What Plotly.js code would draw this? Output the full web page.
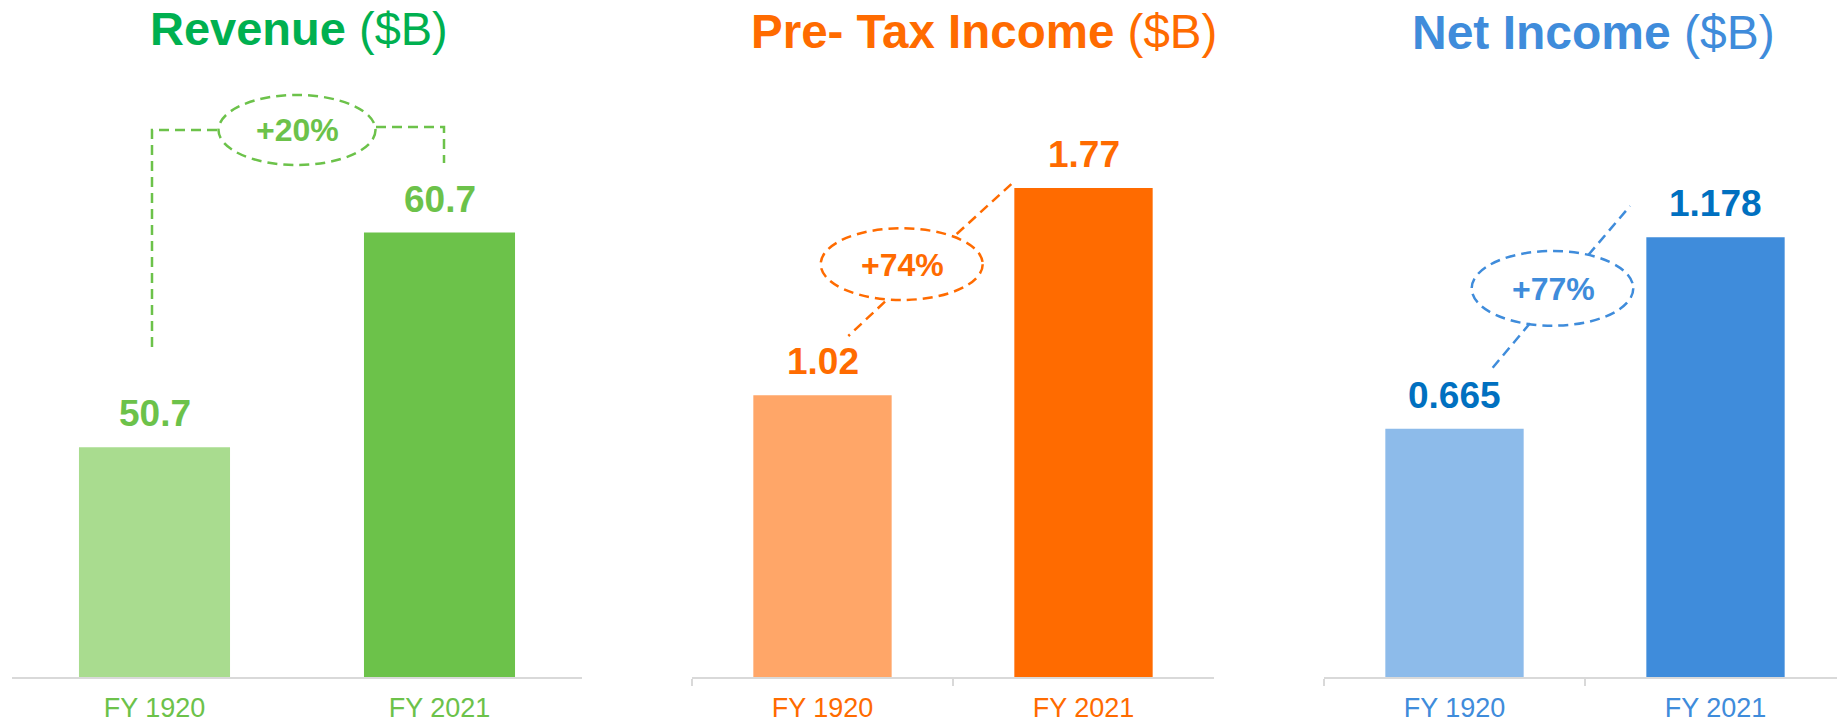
<!DOCTYPE html>
<html><head><meta charset="utf-8">
<script src="https://cdn.plot.ly/plotly-3.0.1.min.js"></script>
<style>html,body{margin:0;padding:0;background:#fff;}#chart{width:1837px;height:723px;}</style>
</head><body><div id="chart"></div>
<script>
// ---- data ----
const categories = ["FY 1920", "FY 2021"];
const revenue = [50.7, 60.7];
const preTaxIncome = [1.02, 1.77];
const netIncome = [0.665, 1.178];
const growthLabels = ["+20%", "+74%", "+77%"];
const titleBold = ["Revenue", "Pre- Tax Income", "Net Income"];
const titleUnit = ["($B)", "($B)", "($B)"];

// ---- layout helpers ----
const W = 1837, H = 723;
const FONT = "Liberation Sans, Arial, Helvetica, sans-serif";
const px = x => x / W;
const py = y => 1 - y / H;
const AXIS_BOTTOM = 677;

const panels = [
  {values: revenue, bars: ["#A9DC8F", "#6CC24A"], titleColor: "#00B050", labelColor: "#6CC24A",
   tickColor: "#6CC24A", accent: "#6CC24A", dom: [12, 582], xr: [-0.5, 1.5], yr: [40, 40 + 677 / 21.47],
   titleX: 299, titleBase: 46, titleSize: 47, showTicks: false,
   ellipse: [218.5, 95, 375.5, 165], growthX: 297, growthBase: 142.7,
   paths: [[[152, 347], [152, 130], [219, 130]], [[376, 127], [444, 127], [444, 163]]]},
  {values: preTaxIncome, bars: ["#FFA668", "#FF6B00"], titleColor: "#FF6B00", labelColor: "#FF6B00",
   tickColor: "#FF6B00", accent: "#FF6B00", dom: [692, 1214], xr: [-0.5, 1.5], yr: [0, 677 / 276.3],
   titleX: 984, titleBase: 49, titleSize: 47.5, showTicks: true,
   ellipse: [820.7, 228.3, 982.7, 300], growthX: 902.5, growthBase: 277.3,
   paths: [[[956.7, 234], [1015, 180.7]], [[885, 301.7], [848.3, 336]]]},
  {values: netIncome, bars: ["#8DBBEA", "#3F8CDB"], titleColor: "#3F8CDB", labelColor: "#0070C0",
   tickColor: "#3F8CDB", accent: "#3F8CDB", dom: [1324, 1837], xr: [-0.5, -0.5 + 513 / 261], yr: [0, 677 / 373.3],
   titleX: 1593, titleBase: 50, titleSize: 48, showTicks: true,
   ellipse: [1471.7, 251, 1633.3, 325.7], growthX: 1553, growthBase: 301.7,
   paths: [[[1588.3, 255], [1630, 206]], [[1530, 323.3], [1489.3, 371.7]]]}
];

function textAt(x, baseline, text, size, color, weight) {
  return {xref: "paper", yref: "paper", x: px(x), y: py(baseline + 0.212 * size + 1),
    xanchor: "center", yanchor: "bottom", showarrow: false, text: text,
    font: {family: FONT, size: size, color: color, weight: weight || "normal"}};
}

const traces = [], annotations = [], shapes = [];
const layout = {
  width: W, height: H, autosize: false,
  margin: {l: 0, r: 0, t: 0, b: 0},
  paper_bgcolor: "#ffffff", plot_bgcolor: "rgba(0,0,0,0)",
  showlegend: false, hovermode: false, bargap: 0.47,
  font: {family: FONT}
};

panels.forEach((p, i) => {
  const n = i === 0 ? "" : String(i + 1);
  traces.push({
    type: "bar", x: categories, y: p.values, xaxis: "x" + n, yaxis: "y" + n,
    marker: {color: p.bars, line: {width: 0}}, hoverinfo: "skip"
  });
  layout["xaxis" + n] = {
    domain: [px(p.dom[0]), px(p.dom[1])], range: p.xr, type: "category",
    anchor: "y" + n, showgrid: false, zeroline: false,
    showline: true, linecolor: "#D9D9D9", linewidth: 2,
    ticks: "outside", tickson: "boundaries", ticklen: 7, tickwidth: 1.5,
    tickcolor: p.showTicks ? "#D9D9D9" : "rgba(0,0,0,0)", ticklabelstandoff: 6,
    tickfont: {family: FONT, size: 27, color: p.tickColor}, fixedrange: true
  };
  layout["yaxis" + n] = {
    domain: [1 - AXIS_BOTTOM / H, 1], range: p.yr, anchor: "x" + n,
    showgrid: false, zeroline: false, showline: false, showticklabels: false, ticks: "", fixedrange: true
  };
  // value labels above bars
  p.values.forEach((v, j) => {
    annotations.push({xref: "x" + n, yref: "y" + n, x: categories[j], y: v,
      xanchor: "center", yanchor: "bottom", yshift: 11, showarrow: false, text: String(v),
      font: {family: FONT, size: 37, color: p.labelColor, weight: "bold"}});
  });
  // title
  annotations.push(textAt(p.titleX, p.titleBase, "<b>" + titleBold[i] + "</b> " + titleUnit[i], p.titleSize, p.titleColor));
  // growth bubble
  annotations.push(textAt(p.growthX, p.growthBase, growthLabels[i], 32, p.accent, "bold"));
  const e = p.ellipse;
  shapes.push({type: "circle", xref: "paper", yref: "paper", x0: px(e[0]), x1: px(e[2]), y0: py(e[3]), y1: py(e[1]),
    line: {color: p.accent, width: 2.5, dash: "10px,6px"}, fillcolor: "rgba(0,0,0,0)"});
  p.paths.forEach(pts => {
    const d = pts.map((q, k) => (k ? "L" : "M") + px(q[0]).toFixed(5) + "," + py(q[1]).toFixed(5)).join(" ");
    shapes.push({type: "path", xref: "paper", yref: "paper", path: d,
      line: {color: p.accent, width: 2.5, dash: "10px,6px"}});
  });
});

layout.annotations = annotations;
layout.shapes = shapes;

Plotly.newPlot("chart", traces, layout, {displayModeBar: false, staticPlot: true});
</script></body></html>
